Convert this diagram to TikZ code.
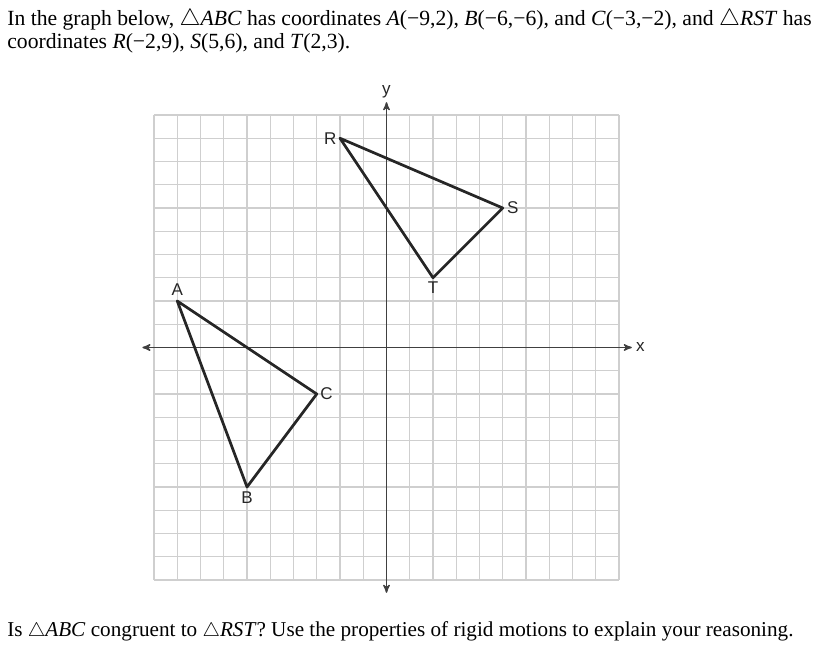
\documentclass[tikz,border=0pt]{standalone}
\usepackage{fontspec}
\setmainfont{Liberation Serif}
\setsansfont{Liberation Sans}
\usetikzlibrary{arrows,positioning}

\begin{document}
\begin{tikzpicture}[x=0.6cm,y=0.6cm,
        gridline/.style={draw=black!19,line width=1pt},
        axis/.style={draw=black!75,line width=1.1pt},
        side/.style={draw=black!85,line width=2pt,line join=round},
        lbl/.style={font=\sffamily\fontsize{12.5}{14}\selectfont,text=black!85,inner sep=1pt},
        txt/.style={font=\fontsize{15.9}{18}\selectfont,anchor=base west,inner sep=0pt}]
            \useasboundingbox (-16.624,-13.054) rectangle (18.645,14.946);
            % text
            \node[txt] (intro1) at (-16.32,13.83) {In the graph below, $\triangle$\textit{ABC} has coordinates \textit{A}(−9,2), \textit{B}(−6,−6), and \textit{C}(−3,−2), and $\triangle$\textit{RST} has};
            \node[txt] (intro2) at (-16.32,12.84) {coordinates \textit{R}(−2,9), \textit{S}(5,6), and \textit{T}(2,3).};
            \node[txt,font=\fontsize{15.55}{18}\selectfont] (question) at (-16.32,-12.44) {Is $\triangle$\textit{ABC} congruent to $\triangle$\textit{RST}? Use the properties of rigid motions to explain your reasoning.};
            % grid and axes
            \foreach \i in {-10,...,10} {
                \draw[gridline] (\i,-10) -- (\i,10);
                \draw[gridline] (-10,\i) -- (10,\i);
            }
            \coordinate (xl) at (-10.5,0);
            \coordinate (xr) at (10.55,0);
            \coordinate (yb) at (0,-10.55);
            \coordinate (yt) at (0,10.55);
            \draw[axis,stealth'-stealth'] (xl) -- (xr);
            \draw[axis,stealth'-stealth'] (yb) -- (yt);
            \node[lbl,right=2pt of xr] (xlab) {x};
            \node[lbl,above=2pt of yt] (ylab) {y};
            % triangles
            \coordinate (A) at (-9,2);
            \coordinate (B) at (-6,-6);
            \coordinate (C) at (-3,-2);
            \coordinate (R) at (-2,9);
            \coordinate (S) at (5,6);
            \coordinate (T) at (2,3);
            \draw[side] (A) -- (B) -- (C) -- cycle;
            \draw[side] (R) -- (S) -- (T) -- cycle;
            \node[lbl,above=2.5pt of A] (Alab) {A};
            \node[lbl,below=2.5pt of B] (Blab) {B};
            \node[lbl,right=1.5pt of C] (Clab) {C};
            \node[lbl,left=1.5pt of R] (Rlab) {R};
            \node[lbl,right=2pt of S] (Slab) {S};
            \node[lbl,below=2pt of T] (Tlab) {T};
        \end{tikzpicture}
\end{document}
